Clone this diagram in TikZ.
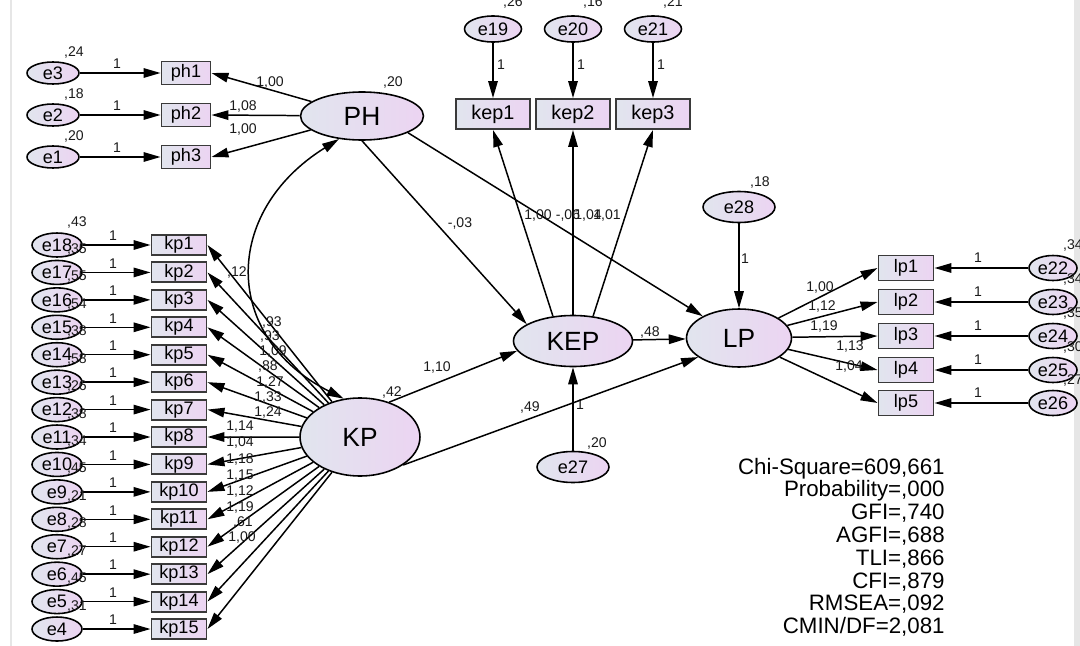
\documentclass[tikz,border=0pt]{standalone}
\usepackage{fontspec}
\setmainfont{Liberation Sans}
\usetikzlibrary{shapes.geometric,arrows.meta}
\definecolor{fillA}{HTML}{E1E5EE}
\definecolor{fillB}{HTML}{ECD4F2}
\definecolor{boxline}{HTML}{3A3A3A}
\definecolor{txt}{HTML}{1A1A1A}
\definecolor{framec}{HTML}{E6E6E6}
\begin{document}
\begin{tikzpicture}[x=0.02cm,y=-0.02cm,
 lat/.style={ellipse,draw=black,line width=0.9pt,left color=fillA,right color=fillB,inner sep=0pt,font=\fontsize{15}{17}\selectfont},
 err/.style={ellipse,draw=black,line width=0.9pt,left color=fillA,right color=fillB,inner sep=0pt,font=\fontsize{10.3}{12}\selectfont},
 obs/.style={rectangle,draw=boxline,line width=1.1pt,left color=fillA,right color=fillB,inner sep=0pt,font=\fontsize{10.3}{12}\selectfont},
 arr/.style={-{Triangle[length=3.4mm,width=1.9mm]},line width=0.85pt},
 dbl/.style={{Triangle[length=3.4mm,width=1.9mm]}-{Triangle[length=3.4mm,width=1.9mm]},line width=0.85pt},
 lab/.style={font=\fontsize{8}{9}\selectfont,text=txt,inner sep=0pt},
 stat/.style={font=\fontsize{12.7}{14}\selectfont,anchor=base east,inner sep=0pt}
]
\useasboundingbox (0,0) rectangle (1080,646);
\clip (0,0) rectangle (1080,646);
\fill[white] (0,0) rectangle (1080,646);
\fill[framec] (1074,0) rectangle (1080,646);
\draw[framec,line width=1.2pt] (11,0) -- (11,646);

% latent variables
\node[lat,minimum width=2.46cm,minimum height=0.96cm] (PH) at (362,116) {PH};
\node[lat,minimum width=2.4cm,minimum height=1.56cm] (KP) at (360,437) {KP};
\node[lat,minimum width=2.38cm,minimum height=1.02cm] (KEP) at (573,341) {KEP};
\node[lat,minimum width=2.1cm,minimum height=1.16cm] (LP) at (739,338) {LP};

% PH indicators
\foreach \y/\n/\k/\v in {73/3/1/{,24},115/2/2/{,18},157/1/3/{,20}}{
  \node[err,minimum width=1.04cm,minimum height=0.44cm] (e\n) at (53,\y) {e\n};
  \node[obs,minimum width=0.98cm,minimum height=0.46cm] (ph\k) at (186,\y) {ph\k};
  \draw[arr] (e\n) -- (ph\k);
  \draw[arr] (PH) -- (ph\k.east);
  \node[lab] (one\n) at (117,\y-9) {1};
  \node[lab] (var\n) at (74,\y-21) {\v};
}
\node[lab] (phl1) at (270,82) {1,00};
\node[lab] (phl2) at (243,106) {1,08};
\node[lab] (phl3) at (243,129) {1,00};
\node[lab] (varPH) at (393,82) {,20};

% KEP indicators
\foreach \x/\n/\k/\v in {493/19/1/{,26},573/20/2/{,16},653/21/3/{,21}}{
  \node[err,minimum width=1.14cm,minimum height=0.52cm] (e\n) at (\x,29) {e\n};
  \node[obs,minimum width=1.48cm,minimum height=0.6cm,font=\fontsize{11.3}{13}\selectfont] (kep\k) at (\x,114) {kep\k};
  \draw[arr] (e\n) -- (kep\k);
  \node[lab] (one\n) at (\x+8,65) {1};
  \node[lab] (var\n) at (\x+20,2) {\v};
}
\draw[arr] (KEP.129) -- (kep1.south);
\draw[arr] (KEP) -- (kep2);
\draw[arr] (KEP.51) -- (kep3.south);

% KP indicators
\foreach \i/\n in {0/18,1/17,2/16,3/15,4/14,5/13,6/12,7/11,8/10,9/9,10/8,11/7,12/6,13/5,14/4}{
  \pgfmathsetmacro\yy{245+27.43*\i}
  \pgfmathtruncatemacro\k{\i+1}
  \node[err,minimum width=1.0cm,minimum height=0.48cm] (e\n) at (57,\yy) {e\n};
  \node[obs,minimum width=1.1cm,minimum height=0.4cm] (kp\k) at (179,\yy) {kp\k};
  \draw[arr] (e\n) -- (kp\k);
  \draw[arr] (KP) -- (kp\k.east);
  \node[lab] (one\n) at (113,\yy-9) {1};
}
\foreach \i/\n/\v in {0/18/{,43},1/17/{,35},2/16/{,55},3/15/{,54},4/14/{,38},5/13/{,58},6/12/{,26},7/11/{,38},8/10/{,34},9/9/{,45},10/8/{,21},11/7/{,28},12/6/{,27},13/5/{,45},14/4/{,31}}{
  \pgfmathsetmacro\yy{245+27.43*\i}
  \node[lab] (var\n) at (77,\yy-23) {\v};
}
\foreach \x/\y/\t [count=\c] in {272/322/{,93},270/336/{,93},273/351/{1,09},268/366/{,88},270/382/{1,27},268/397/{1,33},268/412/{1,24},240/427/{1,14},240/442/{1,04},240/459/{1,18},240/476/{1,15},240/491/{1,12},240/507/{1,19},243/522/{,61},242/537/{1,00}}{
  \node[lab] (kpl\c) at (\x,\y) {\t};
}

% LP indicators
\foreach \y/\n/\k/\v in {268/22/1/{,34},302/23/2/{,34},336/24/3/{,35},370/25/4/{,30},403/26/5/{,27}}{
  \node[obs,minimum width=1.1cm,minimum height=0.5cm] (lp\k) at (906,\y) {lp\k};
  \node[err,minimum width=0.96cm,minimum height=0.5cm] (e\n) at (1053,\y) {e\n};
  \draw[arr] (e\n) -- (lp\k);
  \draw[arr] (LP) -- (lp\k.west);
  \node[lab] (one\n) at (978,\y-10) {1};
  \node[lab] (var\n) at (1073,\y-23) {\v};
}
\node[lab] (lpl1) at (820,287) {1,00};
\node[lab] (lpl2) at (822,306) {1,12};
\node[lab] (lpl3) at (824,326) {1,19};
\node[lab] (lpl4) at (850,346) {1,13};
\node[lab] (lpl5) at (849,366) {1,04};

% disturbances
\node[err,minimum width=1.44cm,minimum height=0.62cm] (e28) at (739,207) {e28};
\node[err,minimum width=1.44cm,minimum height=0.62cm] (e27) at (573,467) {e27};
\draw[arr] (e28) -- (LP);
\draw[arr] (e27) -- (KEP);
\node[lab] (var28) at (760,182) {,18};
\node[lab] (one28) at (745,259) {1};
\node[lab] (var27) at (597,443) {,20};
\node[lab] (one27) at (580,405) {1};

% structural paths
\draw[arr] (PH.south) -- (KEP.160);
\draw[arr] (PH.340) -- (LP.149);
\draw[arr] (KP.50) -- (KEP.190);
\draw[arr] (KP.327) -- (LP.205);
\draw[arr] (KEP) -- (LP);
\draw[dbl] (PH.225) .. controls (222,212) and (222,337) .. (KP.113);

\node[lab] (cov) at (237,272) {,12};
\node[lab] (varKP) at (392,392) {,42};
\node[lab] (p1) at (460,223) {-,03};
\node[lab] (p2) at (437,367) {1,10};
\node[lab] (p3) at (530,407) {,49};
\node[lab] (p4) at (650,332) {,48};
\node[lab] (k1) at (538,215) {1,00};
\node[lab] (k2) at (568,215) {-,06};
\node[lab] (k3) at (588,215) {1,04};
\node[lab] (k4) at (607,215) {1,01};

% fit statistics
\foreach \t [count=\c] in {Chi-Square=609{,}661,Probability={,}000,GFI={,}740,AGFI={,}688,TLI={,}866,CFI={,}879,RMSEA={,}092,CMIN/DF=2{,}081}{
  \node[stat] (st\c) at (945,474+22.8*\c-22.8) {\t};
}
\end{tikzpicture}
\end{document}
